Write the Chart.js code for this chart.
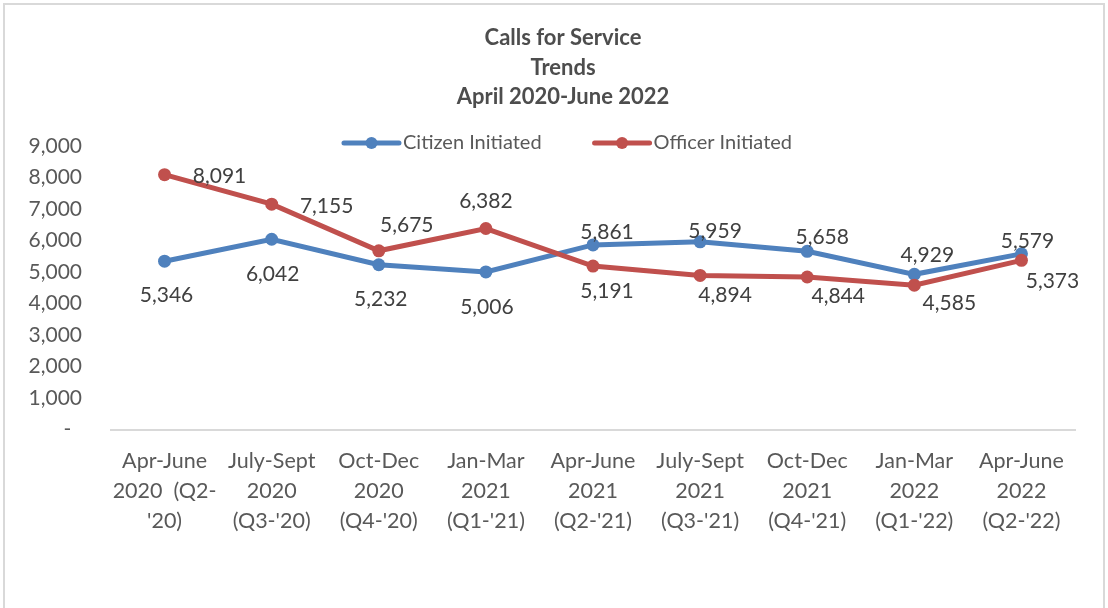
<!DOCTYPE html>
<html lang="en">
  <head>
    <meta charset="UTF-8" />
    <title>Calls for Service Trends</title>
    <script src="https://cdn.jsdelivr.net/npm/chart.js"></script>
    <style>
      body {
        margin: 0;
        background: #ffffff;
      }
      #wrap {
        position: relative;
        width: 1108px;
        height: 608px;
        overflow: hidden;
      }
      #frame {
        position: absolute;
        left: 3px;
        top: 3px;
        width: 1098px;
        height: 640px;
        border: 2px solid #d9d9d9;
        pointer-events: none;
      }
      #callsChart {
        position: absolute;
        left: 0;
        top: 0;
      }
    </style>
  </head>
  <body>
    <div id="wrap">
      <canvas id="callsChart" width="1108" height="608"></canvas>
      <div id="frame"></div>
    </div>
    <script>
      // chart data
      const quarters = [
        ["Apr-June", "2020  (Q2-", "'20)"],
        ["July-Sept", "2020", "(Q3-'20)"],
        ["Oct-Dec", "2020", "(Q4-'20)"],
        ["Jan-Mar", "2021", "(Q1-'21)"],
        ["Apr-June", "2021", "(Q2-'21)"],
        ["July-Sept", "2021", "(Q3-'21)"],
        ["Oct-Dec", "2021", "(Q4-'21)"],
        ["Jan-Mar", "2022", "(Q1-'22)"],
        ["Apr-June", "2022", "(Q2-'22)"],
      ];
      const citizenInitiated = [5346, 6042, 5232, 5006, 5861, 5959, 5658, 4929, 5579];
      const officerInitiated = [8091, 7155, 5675, 6382, 5191, 4894, 4844, 4585, 5373];
      const titleLines = ["Calls for Service", "Trends", "April 2020-June 2022"];
      const seriesNames = ["Citizen Initiated", "Officer Initiated"];

      // where each value label sits relative to its point (dx, dy)
      const citizenLabelOffsets = [
        [2, 34], [1, 35], [2, 34], [1, 35], [14, -13], [15, -11], [15, -14], [13, -19], [6, -13],
      ];
      const officerLabelOffsets = [
        [55, 2], [55, 2], [28, -26], [0, -27], [14, 25], [25, 20], [31, 19], [35, 18], [31, 21],
      ];

      const BLUE = "#4f81bd";
      const RED = "#c0504d";
      const FONT = "Lato";

      // title block, centred a little right of the canvas middle like the original
      const titleBlock = {
        id: "titleBlock",
        afterDraw(chart) {
          const ctx = chart.ctx;
          ctx.save();
          ctx.font = "bold 22px " + FONT;
          ctx.fillStyle = "#4d4d4d";
          ctx.textAlign = "center";
          ctx.textBaseline = "middle";
          titleLines.forEach((line, i) => {
            ctx.fillText(line, 563, 38 + i * 29.5);
          });
          ctx.restore();
        },
      };

      // value labels drawn next to each point
      const valueLabels = {
        id: "valueLabels",
        afterDatasetsDraw(chart) {
          const ctx = chart.ctx;
          ctx.save();
          ctx.font = "21px " + FONT;
          ctx.fillStyle = "#404040";
          ctx.textAlign = "center";
          ctx.textBaseline = "middle";
          chart.data.datasets.forEach((ds, di) => {
            const meta = chart.getDatasetMeta(di);
            meta.data.forEach((pt, i) => {
              const off = ds.labelOffsets[i];
              ctx.fillText(ds.data[i].toLocaleString("en-US"), pt.x + off[0], pt.y + off[1]);
            });
          });
          ctx.restore();
        },
      };

      // Excel style legend: short line with a marker, sitting inside the plot
      const lineLegend = {
        id: "lineLegend",
        afterDraw(chart) {
          const ctx = chart.ctx;
          const y = 143;
          const lineLen = 55;
          const gap = 53;
          ctx.save();
          ctx.font = "20px " + FONT;
          ctx.textBaseline = "middle";
          const items = chart.data.datasets.map((ds) => ({
            ds,
            w: lineLen + 4 + ctx.measureText(ds.label).width,
          }));
          const total = items.reduce((s, it) => s + it.w, 0) + gap * (items.length - 1);
          let x = 568 - total / 2;
          items.forEach((it) => {
            ctx.strokeStyle = it.ds.borderColor;
            ctx.lineWidth = 5;
            ctx.lineCap = "round";
            ctx.beginPath();
            ctx.moveTo(x, y);
            ctx.lineTo(x + lineLen, y);
            ctx.stroke();
            ctx.fillStyle = it.ds.borderColor;
            ctx.beginPath();
            ctx.arc(x + lineLen / 2, y, 6, 0, Math.PI * 2);
            ctx.fill();
            ctx.fillStyle = "#595959";
            ctx.fillText(it.ds.label, x + lineLen + 4, y);
            x += it.w + gap;
          });
          ctx.restore();
        },
      };

      const ctx = document.getElementById("callsChart").getContext("2d");
      const callsChart = new Chart(ctx, {
        type: "line",
        data: {
          labels: quarters,
          datasets: [
            {
              label: seriesNames[0],
              data: citizenInitiated,
              labelOffsets: citizenLabelOffsets,
              borderColor: BLUE,
              backgroundColor: BLUE,
              pointBackgroundColor: BLUE,
              pointBorderColor: BLUE,
              borderWidth: 5,
              pointRadius: 6.5,
              pointBorderWidth: 0,
              tension: 0,
              order: 1,
            },
            {
              label: seriesNames[1],
              data: officerInitiated,
              labelOffsets: officerLabelOffsets,
              borderColor: RED,
              backgroundColor: RED,
              pointBackgroundColor: RED,
              pointBorderColor: RED,
              borderWidth: 5,
              pointRadius: 6.5,
              pointBorderWidth: 0,
              tension: 0,
              order: 0,
            },
          ],
        },
        options: {
          responsive: false,
          animation: false,
          devicePixelRatio: 1,
          layout: {
            padding: { left: 0, right: 33, top: 146, bottom: 56 },
          },
          plugins: {
            legend: { display: false },
            tooltip: { enabled: false },
            title: { display: false },
          },
          scales: {
            x: {
              offset: true,
              grid: { display: false, drawTicks: false },
              border: { display: true, color: "#d9d9d9", width: 2 },
              ticks: {
                color: "#595959",
                font: { family: FONT, size: 21.5, lineHeight: 1.4 },
                padding: 16,
                maxRotation: 0,
                autoSkip: false,
              },
            },
            y: {
              min: 0,
              max: 9000,
              afterFit(scale) {
                scale.width = 111;
              },
              grid: { display: false, drawTicks: false },
              border: { display: false },
              ticks: {
                stepSize: 1000,
                color: "#595959",
                font: { family: FONT, size: 21 },
                padding: 29,
                callback: (v) => (v === 0 ? "-  " : v.toLocaleString("en-US")),
              },
            },
          },
        },
        plugins: [titleBlock, valueLabels, lineLegend],
      });
    </script>
  </body>
</html>
